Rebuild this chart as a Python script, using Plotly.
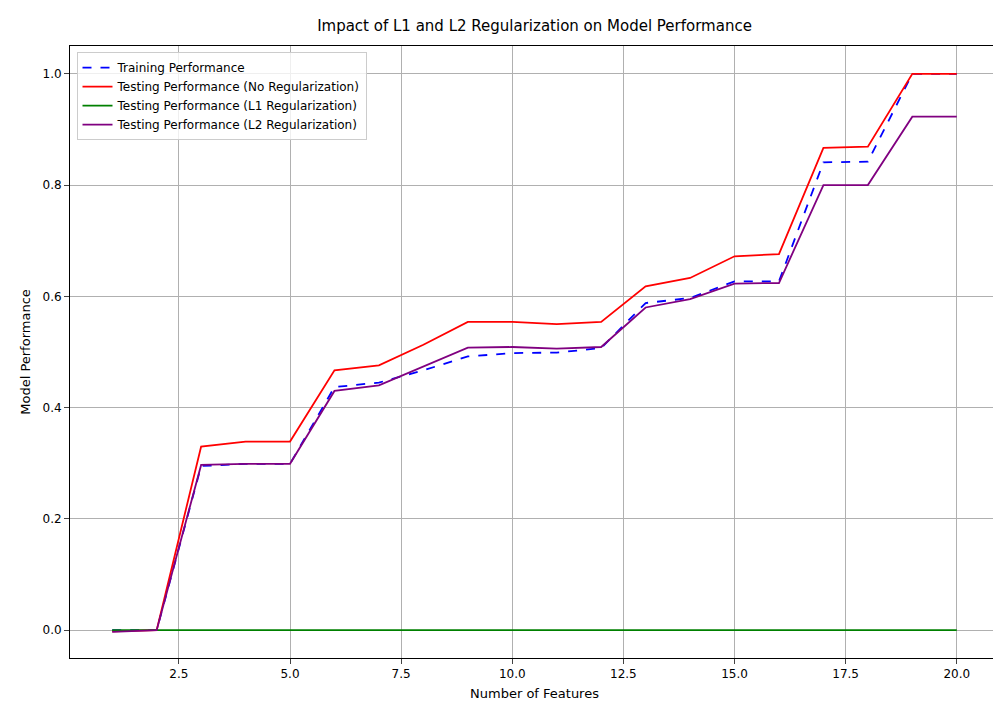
import plotly.graph_objects as go

features = list(range(1, 21))
train = [0, 0, 0.295, 0.299, 0.299, 0.437, 0.445, 0.467, 0.492, 0.498, 0.499, 0.507,
         0.588, 0.597, 0.627, 0.627, 0.841, 0.842, 1.0, 1.0]
test_none = [-0.002, 0, 0.330, 0.339, 0.339, 0.467, 0.476, 0.513, 0.554, 0.554, 0.550, 0.554,
             0.618, 0.633, 0.672, 0.676, 0.867, 0.869, 1.0, 1.0]
test_l1 = [0] * 20
test_l2 = [-0.003, 0, 0.297, 0.299, 0.299, 0.430, 0.440, 0.474, 0.508, 0.509, 0.506, 0.509,
           0.580, 0.595, 0.623, 0.624, 0.800, 0.800, 0.923, 0.923]

fig = go.Figure()
fig.add_trace(go.Scatter(x=features, y=train, mode="lines", name="Training Performance",
                         line=dict(color="blue", dash="dash", width=1.8)))
fig.add_trace(go.Scatter(x=features, y=test_none, mode="lines",
                         name="Testing Performance (No Regularization)",
                         line=dict(color="red", width=1.8)))
fig.add_trace(go.Scatter(x=features, y=test_l1, mode="lines",
                         name="Testing Performance (L1 Regularization)",
                         line=dict(color="green", width=1.8)))
fig.add_trace(go.Scatter(x=features, y=test_l2, mode="lines",
                         name="Testing Performance (L2 Regularization)",
                         line=dict(color="purple", width=1.8)))

axis = dict(showline=True, linecolor="black", mirror=True, ticks="outside",
            showgrid=True, gridcolor="#b0b0b0", zeroline=False, automargin=False,
            tickfont=dict(size=12, color="black"))
fig.update_xaxes(axis, range=[0.05, 20.95], tick0=2.5, dtick=2.5, tickformat=".1f",
                 title=dict(text="Number of Features", font=dict(size=13), standoff=8))
fig.update_yaxes(axis, range=[-0.05, 1.05], dtick=0.2, tickformat=".1f",
                 title=dict(text="Model Performance", font=dict(size=13), standoff=8))
fig.update_layout(
    width=1001, height=701, template="simple_white",
    font=dict(family="DejaVu Sans", color="black"),
    title=dict(text="Impact of L1 and L2 Regularization on Model Performance",
               x=0.526, xanchor="center", y=1 - 18 / 701, yanchor="middle",
               font=dict(size=15)),
    margin=dict(l=62, r=10, t=38, b=51, autoexpand=False),
    legend=dict(x=0.007, y=0.99, xanchor="left", yanchor="top",
                bordercolor="#cccccc", borderwidth=1, bgcolor="rgba(255,255,255,0.8)",
                font=dict(size=12)),
)
fig.write_html("out.html")
